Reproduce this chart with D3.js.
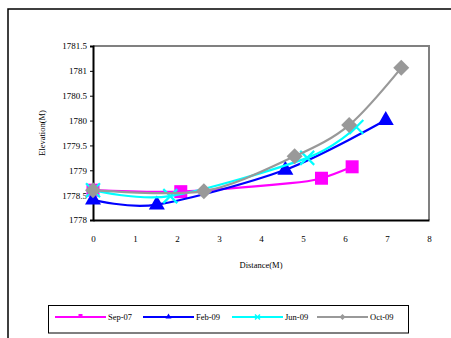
<!DOCTYPE html>
<html><head><meta charset="utf-8">
<script src="https://cdn.jsdelivr.net/npm/d3@7"></script>
<style>body{margin:0;background:#fff}svg{display:block}text{font-family:"Liberation Serif","Times New Roman",serif}</style>
</head><body><svg id="c" width="451" height="338"></svg>
<script>
const xTicks = [0,1,2,3,4,5,6,7,8];
const yTicks = [1778,1778.5,1779,1779.5,1780,1780.5,1781,1781.5];
const seriesNames = ["Sep-07","Feb-09","Jun-09","Oct-09"];
const seriesColors = ["#FF00FF","#0000FF","#00FFFF","#999999"];
const sepX = [0, 2.09, 4.7, 5.44, 6.17];
const sepY = [1778.6, 1778.57, 1778.74, 1778.84, 1779.07];
const sepMarkers = [0, 1, 3, 4];
const febX = [0, 1.52, 4.58, 6.97];
const febY = [1778.41, 1778.31, 1779.01, 1780.01];
const junX = [0, 1.84, 5.1, 6.27];
const junY = [1778.6, 1778.48, 1779.25, 1779.87];
const octX = [0, 2.64, 4.8, 6.1, 7.34];
const octY = [1778.6, 1778.58, 1779.28, 1779.91, 1781.06];

const svg = d3.select("#c");
const L=93,R=429,T=46,B=220;
const x = d3.scaleLinear().domain([0,8]).range([L,R]);
const y = d3.scaleLinear().domain([1778,1781.5]).range([B,T]);

// outer frame
svg.append("path").attr("d","M8,340 L8,9 L455,9").attr("fill","none").attr("stroke","#000").attr("stroke-width",1.5);

// plot border
svg.append("path").attr("d",`M${L},${T} L${R},${T} L${R},${B}`).attr("fill","none").attr("stroke","#808080").attr("stroke-width",2);

// axes
const yAxis = d3.axisLeft(y).tickValues(yTicks).tickSize(3).tickFormat(d=>String(d));
const gy = svg.append("g").attr("transform",`translate(${L},0)`).call(yAxis);
gy.select(".domain").attr("stroke","#000").attr("stroke-width",2);
gy.selectAll("text").attr("font-size",9).attr("font-family","Liberation Serif").attr("fill","#000").attr("x",-6);
const xAxis = d3.axisBottom(x).tickValues(xTicks).tickSize(0).tickFormat(d=>String(d));
const gx = svg.append("g").attr("transform",`translate(0,${B})`).call(xAxis);
gx.select(".domain").attr("stroke","#000").attr("stroke-width",2);
gx.selectAll("text").attr("font-size",9).attr("font-family","Liberation Serif").attr("fill","#000").attr("dy","0").attr("y",22);

// titles
svg.append("text").attr("x",(L+R)/2).attr("y",268).attr("text-anchor","middle").attr("font-size",8.5).text("Distance(M)");
svg.append("text").attr("transform",`translate(45,${(T+B)/2}) rotate(-90)`).attr("text-anchor","middle").attr("font-size",8.5).text("Elevation(M)");

const line = d3.line().x(d=>x(d[0])).y(d=>y(d[1])).curve(d3.curveCardinal.tension(0.1));
const data = [
  {xs:sepX, ys:sepY, m:sepMarkers, sym:"square"},
  {xs:febX, ys:febY, m:null, sym:"triangle"},
  {xs:junX, ys:junY, m:null, sym:"x"},
  {xs:octX, ys:octY, m:null, sym:"diamond"}
];
function marker(g, sym, cx, cy, col){
  if(sym==="square") g.append("rect").attr("x",cx-6.5).attr("y",cy-6.5).attr("width",13).attr("height",13).attr("fill",col);
  else if(sym==="triangle") g.append("path").attr("d",`M${cx},${cy-9} L${cx+8},${cy+5} L${cx-8},${cy+5}Z`).attr("fill",col);
  else if(sym==="diamond") g.append("path").attr("d",`M${cx},${cy-8} L${cx+8},${cy} L${cx},${cy+8} L${cx-8},${cy}Z`).attr("fill",col);
  else if(sym==="x") g.append("path").attr("d",`M${cx-7},${cy-7} L${cx+7},${cy+7} M${cx+7},${cy-7} L${cx-7},${cy+7}`).attr("stroke",col).attr("stroke-width",2.2).attr("fill","none");
}
data.forEach((s,i)=>{
  const pts = s.xs.map((v,j)=>[v,s.ys[j]]);
  const g = svg.append("g");
  g.append("path").attr("d",line(pts)).attr("fill","none").attr("stroke",seriesColors[i]).attr("stroke-width",2.2);
  const idx = s.m || pts.map((_,j)=>j);
  idx.forEach(j=>marker(g,s.sym,x(pts[j][0]),y(pts[j][1]),seriesColors[i]));
});

// legend
svg.append("rect").attr("x",48.5).attr("y",305.5).attr("width",360).attr("height",27.5).attr("fill","none").attr("stroke","#000").attr("stroke-width",1);
const legX = [55,143,232,317];
const legSym = ["square","triangle","x","diamond"];
seriesNames.forEach((n,i)=>{
  const g = svg.append("g");
  const x0 = legX[i], yc = 317;
  g.append("line").attr("x1",x0).attr("x2",x0+51).attr("y1",yc).attr("y2",yc).attr("stroke",seriesColors[i]).attr("stroke-width",2.2);
  const cx = x0+25.5;
  if(legSym[i]==="square") g.append("rect").attr("x",cx-2).attr("y",yc-3).attr("width",4).attr("height",4).attr("fill",seriesColors[i]);
  else if(legSym[i]==="triangle") g.append("path").attr("d",`M${cx},${yc-3.5} L${cx+3},${yc+1.5} L${cx-3},${yc+1.5}Z`).attr("fill",seriesColors[i]);
  else if(legSym[i]==="x") g.append("path").attr("d",`M${cx-2.5},${yc-2.5} L${cx+2.5},${yc+2.5} M${cx+2.5},${yc-2.5} L${cx-2.5},${yc+2.5}`).attr("stroke",seriesColors[i]).attr("stroke-width",1.5);
  else g.append("path").attr("d",`M${cx},${yc-3} L${cx+3},${yc} L${cx},${yc+3} L${cx-3},${yc}Z`).attr("fill",seriesColors[i]);
  g.append("text").attr("x",x0+53).attr("y",yc+3).attr("font-size",8.5).text(n);
});
</script></body></html>
